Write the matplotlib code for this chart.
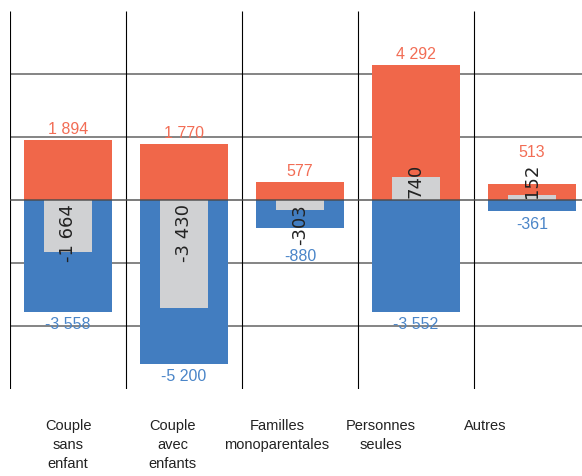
#!/usr/bin/env python3

# Bar chart: positive / negative flows per household type, with the net
# balance as a narrow grey bar in the middle of each category.

import numpy as np
import matplotlib
matplotlib.use('Agg')
import matplotlib.pyplot as plt

# data:
categories = ["Couple\nsans\nenfant", "Couple\navec\nenfants",
              "Familles\nmonoparentales", "Personnes\nseules", "Autres"]
gains = [1894, 1770, 577, 4292, 513]
losses = [-3558, -5200, -880, -3552, -361]
net = [-1664, -3430, -303, 740, 152]

orange = '#F0674A'
blue = '#427DC0'
grey = '#D0D1D3'
orange_txt = '#F26D55'
blue_txt = '#4A85C8'

label_font = ['Liberation Sans Narrow', 'Liberation Sans', 'DejaVu Sans']


def fmt(v):
     """thousands separated by a plain space, like '-3 558'"""
     return "{:,}".format(v).replace(",", " ")


fig = plt.figure(figsize=(5.82, 4.77), dpi=100)
ax = fig.add_axes([10 / 582, 87 / 477, 580 / 582, 378 / 477])

x = np.arange(len(categories))

ax.set_xlim(-0.5, len(categories) - 0.5)
ax.set_ylim(-6000, 6000)

# grid: horizontal lines every 2000, vertical lines between categories
ax.hlines([-4000, -2000, 2000, 4000], -0.5, len(categories) - 0.5,
          colors='#707070', lw=1.2, zorder=0)
ax.vlines(np.arange(len(categories) + 1) - 0.5, -6000, 6000,
          colors='black', lw=0.8, zorder=0)

ax.bar(x, gains, width=0.767, color=orange, zorder=1)
ax.bar(x, losses, width=0.767, color=blue, zorder=1)
ax.bar(x, net, width=0.414, color=grey, zorder=2)
ax.axhline(0, color='#4a4a4a', lw=1.2, alpha=0.85, zorder=3)

# net values, rotated, starting at the zero line
net_texts = []
for i, v in enumerate(net):
     t = ax.annotate(fmt(v), (i, 0), xytext=(0, 2 if v > 0 else -2),
                     textcoords='offset points', rotation=90,
                     ha='center', va='bottom' if v > 0 else 'top',
                     fontsize=13, color='#222222', family='DejaVu Sans',
                     zorder=4)
     net_texts.append(t)

# value labels go past the bar end, or past the net label if that is longer
fig.canvas.draw()
inv = ax.transData.inverted()
for i in range(len(categories)):
     bb = net_texts[i].get_window_extent()
     top = inv.transform((0, bb.y1))[1]
     bottom = inv.transform((0, bb.y0))[1]
     up = max(gains[i], top if net[i] > 0 else 0)
     down = min(losses[i], bottom if net[i] < 0 else 0)
     ax.annotate(fmt(gains[i]), (i, up), xytext=(0, 3),
                 textcoords='offset points', ha='center', va='bottom',
                 fontsize=11.5, color=orange_txt, family=label_font)
     ax.annotate(fmt(losses[i]), (i, down), xytext=(0, -3),
                 textcoords='offset points', ha='center', va='top',
                 fontsize=11.5, color=blue_txt, family=label_font)

# category labels sit on a slightly tighter pitch than the bars
ax.set_xticks(x * 0.9)
ax.set_xticklabels(categories, family=label_font, fontsize=10.5,
                   color='#222222', linespacing=1.45, va='top')
ax.tick_params(axis='x', length=0, pad=21)
ax.set_yticks([])
for s in ax.spines.values():
     s.set_visible(False)

plt.savefig('out.png', dpi=100)
